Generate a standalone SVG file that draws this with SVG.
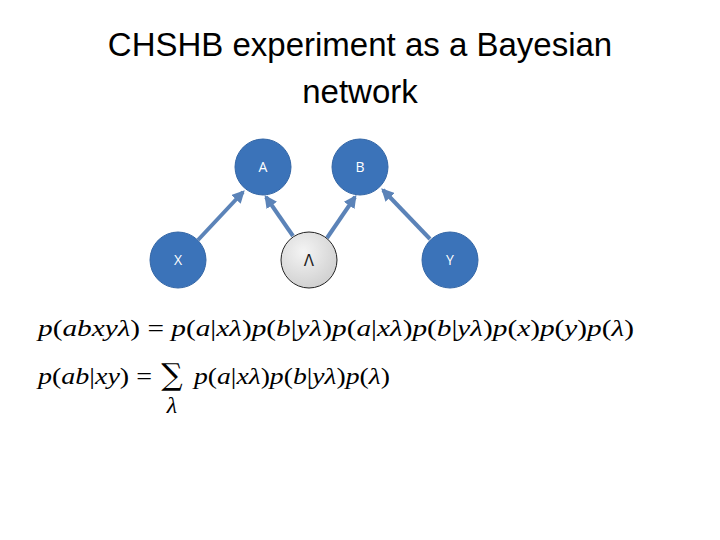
<svg xmlns="http://www.w3.org/2000/svg" width="720" height="540" viewBox="0 0 720 540">
<defs>
<style>
.title{font-family:"Liberation Sans","Open Sans",sans-serif;font-size:33px;fill:#000;text-anchor:middle}
.n{fill:#3b73b9;stroke:#3567a6;stroke-width:1}
.lbl{font-family:"Open Sans","Liberation Sans",sans-serif;font-size:14px;fill:#fff;text-anchor:middle}
.e{stroke:#5b83b8;stroke-width:4;fill:none;marker-end:url(#ah)}
.m{font-family:"Liberation Serif","DejaVu Serif",serif;font-size:24px;fill:#000}
.i{font-style:italic}
</style>
<marker id="ah" viewBox="0 0 10 10" refX="8" refY="5" markerWidth="3.2" markerHeight="3.2" orient="auto">
<path d="M0,0 L10,5 L0,10 z" fill="#5b83b8"/>
</marker>
<radialGradient id="g" cx="0.4" cy="0.35" r="0.7"><stop offset="0" stop-color="#f4f4f4"/><stop offset="1" stop-color="#cfcfcf"/></radialGradient>
</defs>
<rect width="720" height="540" fill="#fff"/>
<text class="title" x="360" y="56">CHSHB experiment as a Bayesian</text>
<text class="title" x="360" y="103">network</text>
<g id="connectors">
<line class="e" x1="198" y1="240" x2="243" y2="192"/>
<line class="e" x1="293" y1="236" x2="266" y2="197"/>
<line class="e" x1="327" y1="238" x2="355" y2="197"/>
<line class="e" x1="430" y1="239" x2="383" y2="190"/>
</g>
<g id="A"><circle class="n" cx="263" cy="167" r="28"/><text class="lbl" x="263" y="172">A</text></g>
<g id="B"><circle class="n" cx="360" cy="167" r="28"/><text class="lbl" x="360" y="172">B</text></g>
<g id="X"><circle class="n" cx="178" cy="260" r="28"/><text class="lbl" x="178" y="265">X</text></g>
<g id="L"><circle cx="309" cy="260" r="28" fill="url(#g)" stroke="#222" stroke-width="1"/><text x="309" y="266" text-anchor="middle" font-family="DejaVu Sans,sans-serif" font-size="15" fill="#222">Λ</text></g>
<g id="Y"><circle class="n" cx="450" cy="260" r="28"/><text class="lbl" x="450" y="265">Y</text></g>
<text class="m" x="38" y="336" textLength="596" lengthAdjust="spacingAndGlyphs"><tspan class="i">p</tspan>(<tspan class="i">abxyλ</tspan>) = <tspan class="i">p</tspan>(<tspan class="i">a</tspan>|<tspan class="i">xλ</tspan>)<tspan class="i">p</tspan>(<tspan class="i">b</tspan>|<tspan class="i">yλ</tspan>)<tspan class="i">p</tspan>(<tspan class="i">a</tspan>|<tspan class="i">xλ</tspan>)<tspan class="i">p</tspan>(<tspan class="i">b</tspan>|<tspan class="i">yλ</tspan>)<tspan class="i">p</tspan>(<tspan class="i">x</tspan>)<tspan class="i">p</tspan>(<tspan class="i">y</tspan>)<tspan class="i">p</tspan>(<tspan class="i">λ</tspan>)</text>
<text class="m" x="38" y="384" textLength="114" lengthAdjust="spacingAndGlyphs"><tspan class="i">p</tspan>(<tspan class="i">ab</tspan>|<tspan class="i">xy</tspan>) =</text>
<text x="172" y="385" text-anchor="middle" font-family="DejaVu Serif,serif" font-size="30" fill="#000">∑</text>
<text class="m i" x="172" y="413" font-size="15" text-anchor="middle">λ</text>
<text class="m" x="194" y="384" textLength="196" lengthAdjust="spacingAndGlyphs"><tspan class="i">p</tspan>(<tspan class="i">a</tspan>|<tspan class="i">xλ</tspan>)<tspan class="i">p</tspan>(<tspan class="i">b</tspan>|<tspan class="i">yλ</tspan>)<tspan class="i">p</tspan>(<tspan class="i">λ</tspan>)</text>
</svg>
